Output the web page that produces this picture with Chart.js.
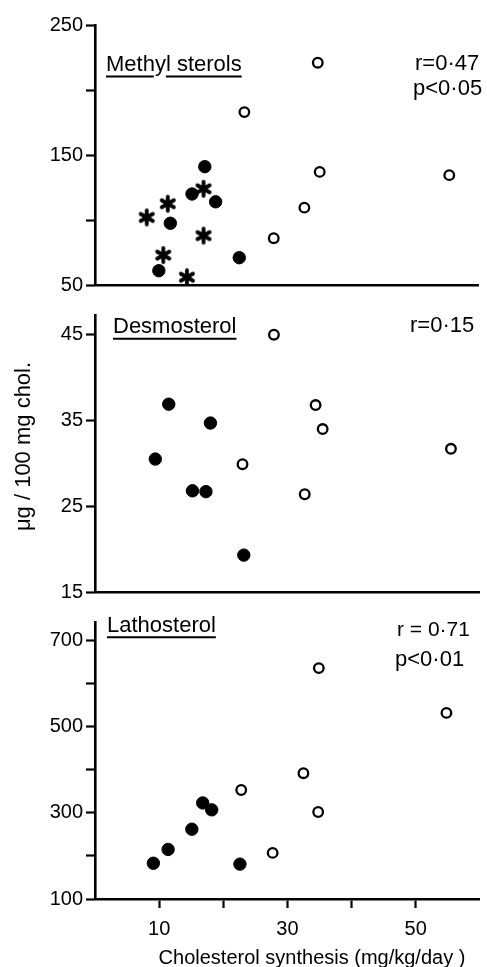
<!DOCTYPE html>
<html><head><meta charset="utf-8">
<script src="https://cdn.jsdelivr.net/npm/chart.js@4.4.1/dist/chart.umd.min.js"></script>
<style>
html,body{margin:0;padding:0;background:#fff;}
body{width:487px;height:967px;position:relative;overflow:hidden;}
canvas{position:absolute;left:0;}
</style></head><body>
<canvas id="c1" width="487" height="300" style="top:0px"></canvas>
<canvas id="c2" width="487" height="307" style="top:300px"></canvas>
<canvas id="c3" width="487" height="360" style="top:607px"></canvas>
<script>
// ---------- data ----------
const xTicks = [10, 20, 30, 40, 50];
const xTickLabels = ['10', '', '30', '', '50'];

const methylFilledX = [17.2, 15.2, 18.9, 11.8, 10.0, 22.6];
const methylFilledY = [141, 120, 114, 97.5, 61, 71];
const methylOpenX = [34.9, 23.4, 35.2, 55.5, 32.8, 28.0];
const methylOpenY = [221, 183, 137, 134.5, 109.5, 86];
const methylStarX = [8.1, 11.4, 17.0, 17.0, 10.7, 14.4];
const methylStarY = [102, 112.5, 124, 88, 73, 56];
const methylTicks = [50, 100, 150, 200, 250];
const methylTickLabels = ['50', '', '150', '', '250'];

const desmoFilledX = [11.5, 9.4, 18.0, 15.2, 17.3, 23.2];
const desmoFilledY = [36.9, 30.5, 34.7, 26.8, 26.7, 19.3];
const desmoOpenX = [27.9, 23.0, 34.4, 35.5, 32.7, 55.5];
const desmoOpenY = [45.0, 29.9, 36.8, 34.0, 26.4, 31.7];
const desmoTicks = [15, 25, 35, 45];
const desmoTickLabels = ['15', '25', '35', '45'];

const lathoFilledX = [9.1, 11.4, 15.1, 16.8, 18.2, 22.6];
const lathoFilledY = [183, 215, 262, 323, 307, 181];
const lathoOpenX = [22.8, 27.7, 32.5, 34.8, 34.9, 54.8];
const lathoOpenY = [353, 207, 392, 302, 636, 532];
const lathoTicks = [100, 200, 300, 400, 500, 600, 700];
const lathoTickLabels = ['100', '', '300', '', '500', '', '700'];

// ---------- helpers ----------
const FONT = 'Liberation Sans, Arial, sans-serif';
const pts = (xs, ys) => xs.map((x, i) => ({x: x, y: ys[i]}));

function makeAsterisk() {
  const c = document.createElement('canvas');
  c.width = 20; c.height = 20;
  const g = c.getContext('2d');
  g.strokeStyle = '#000'; g.lineWidth = 3.8; g.lineCap = 'round';
  const r = 7;
  for (let k = 0; k < 3; k++) {
    const a = Math.PI / 2 + k * Math.PI / 3;
    g.beginPath();
    g.moveTo(10 + r * Math.cos(a), 10 + r * Math.sin(a));
    g.lineTo(10 - r * Math.cos(a), 10 - r * Math.sin(a));
    g.stroke();
  }
  return c;
}
const asterisk = makeAsterisk();

const filledStyle = {pointStyle: 'circle', pointRadius: 6.2, pointBorderWidth: 1,
  pointBackgroundColor: '#000', pointBorderColor: '#000', showLine: false};
const openStyle = {pointStyle: 'circle', pointRadius: 4.8, pointBorderWidth: 2.3,
  pointBackgroundColor: '#fff', pointBorderColor: '#000', showLine: false};
const starStyle = {pointStyle: asterisk, pointRadius: 8, showLine: false};

const textPlugin = {
  id: 'texts',
  afterDraw(chart, args, opts) {
    const ctx = chart.ctx;
    ctx.save();
    ctx.fillStyle = '#000';
    ctx.strokeStyle = '#000';
    (opts.items || []).forEach(t => {
      ctx.font = (t.size || 22) + 'px ' + FONT;
      ctx.textBaseline = 'alphabetic';
      if (t.rotate) {
        ctx.save();
        ctx.translate(t.x, t.y);
        ctx.rotate(-Math.PI / 2);
        ctx.textAlign = 'center';
        ctx.fillText(t.text, 0, 0);
        ctx.restore();
        return;
      }
      ctx.textAlign = t.align || 'left';
      ctx.fillText(t.text, t.x, t.y);
      if (t.underline) {
        const w = ctx.measureText(t.text).width;
        ctx.lineWidth = 2;
        const segs = t.gap ? [[0, ctx.measureText(t.gap[0]).width - 1],
                              [ctx.measureText(t.gap[1]).width, w]] : [[0, w]];
        segs.forEach(s => {
          ctx.beginPath();
          ctx.moveTo(t.x + s[0], t.underline);
          ctx.lineTo(t.x + s[1], t.underline);
          ctx.stroke();
        });
      }
    });
    ctx.restore();
  }
};

function makeChart(id, o) {
  const tickFont = {family: FONT, size: 20};
  return new Chart(document.getElementById(id), {
    type: 'scatter',
    data: {datasets: o.datasets},
    options: {
      responsive: false, animation: false, devicePixelRatio: 1,
      layout: {padding: {top: o.padTop, right: 5, left: 0, bottom: 0}},
      plugins: {legend: {display: false}, tooltip: {enabled: false}, texts: {items: o.texts}},
      elements: {point: {hoverRadius: 0}},
      scales: {
        x: {
          type: 'linear', min: 0, max: 60,
          afterFit: s => { s.height = o.xHeight; },
          afterBuildTicks: s => { s.ticks = xTicks.map(v => ({value: v})); },
          ticks: {display: o.showX, autoSkip: false, maxRotation: 0, padding: 9, color: '#000',
                  font: tickFont, callback: (v, i) => xTickLabels[i]},
          grid: {display: true, drawOnChartArea: false, drawTicks: o.showX, tickLength: 9,
                 tickWidth: 2.2, tickColor: '#000'},
          border: {display: true, color: '#000', width: 2.6}
        },
        y: {
          type: 'linear', min: o.yMin, max: o.yMax,
          afterFit: s => { s.width = 95; },
          afterBuildTicks: s => { s.ticks = o.yTicks.map(v => ({value: v})); },
          ticks: {autoSkip: false, padding: 3, color: '#000', font: tickFont,
                  callback: (v, i) => o.yLabels[i]},
          grid: {display: true, drawOnChartArea: false, tickLength: 9, tickWidth: 2.2, tickColor: '#000'},
          border: {display: true, color: '#000', width: 2.6}
        }
      }
    },
    plugins: [textPlugin]
  });
}

// ---------- panel 1: methyl sterols ----------
makeChart('c1', {
  padTop: 25, xHeight: 13, showX: false,
  yMin: 50, yMax: 250, yTicks: methylTicks, yLabels: methylTickLabels,
  datasets: [
    Object.assign({label: 'open', data: pts(methylOpenX, methylOpenY)}, openStyle),
    Object.assign({label: 'filled', data: pts(methylFilledX, methylFilledY)}, filledStyle),
    Object.assign({label: 'star', data: pts(methylStarX, methylStarY)}, starStyle)
  ],
  texts: [
    {text: 'Methyl sterols', x: 106, y: 71, underline: 76.5, gap: ['Meth', 'Methy']},
    {text: 'r=0·47', x: 415, y: 70},
    {text: 'p<0·05', x: 413, y: 95}
  ]
});

// ---------- panel 2: desmosterol ----------
makeChart('c2', {
  padTop: 13, xHeight: 12, showX: false,
  yMin: 15, yMax: 47.3, yTicks: desmoTicks, yLabels: desmoTickLabels,
  datasets: [
    Object.assign({label: 'open', data: pts(desmoOpenX, desmoOpenY)}, openStyle),
    Object.assign({label: 'filled', data: pts(desmoFilledX, desmoFilledY)}, filledStyle)
  ],
  texts: [
    {text: 'Desmosterol', x: 113, y: 33.3, underline: 38.7},
    {text: 'r=0·15', x: 410, y: 31.7},
    {text: 'μg / 100 mg chol.', x: 30, y: 146.5, rotate: true}
  ]
});

// ---------- panel 3: lathosterol ----------
makeChart('c3', {
  padTop: 10, xHeight: 68, showX: true,
  yMin: 100, yMax: 743, yTicks: lathoTicks, yLabels: lathoTickLabels,
  datasets: [
    Object.assign({label: 'open', data: pts(lathoOpenX, lathoOpenY)}, openStyle),
    Object.assign({label: 'filled', data: pts(lathoFilledX, lathoFilledY)}, filledStyle)
  ],
  texts: [
    {text: 'Lathosterol', x: 107, y: 25.3, underline: 30.3},
    {text: 'r = 0·71', x: 397, y: 29, size: 21},
    {text: 'p<0·01', x: 395, y: 59},
    {text: 'Cholesterol synthesis (mg/kg/day )', x: 312, y: 357, size: 20, align: 'center'}
  ]
});
</script>
</body></html>
